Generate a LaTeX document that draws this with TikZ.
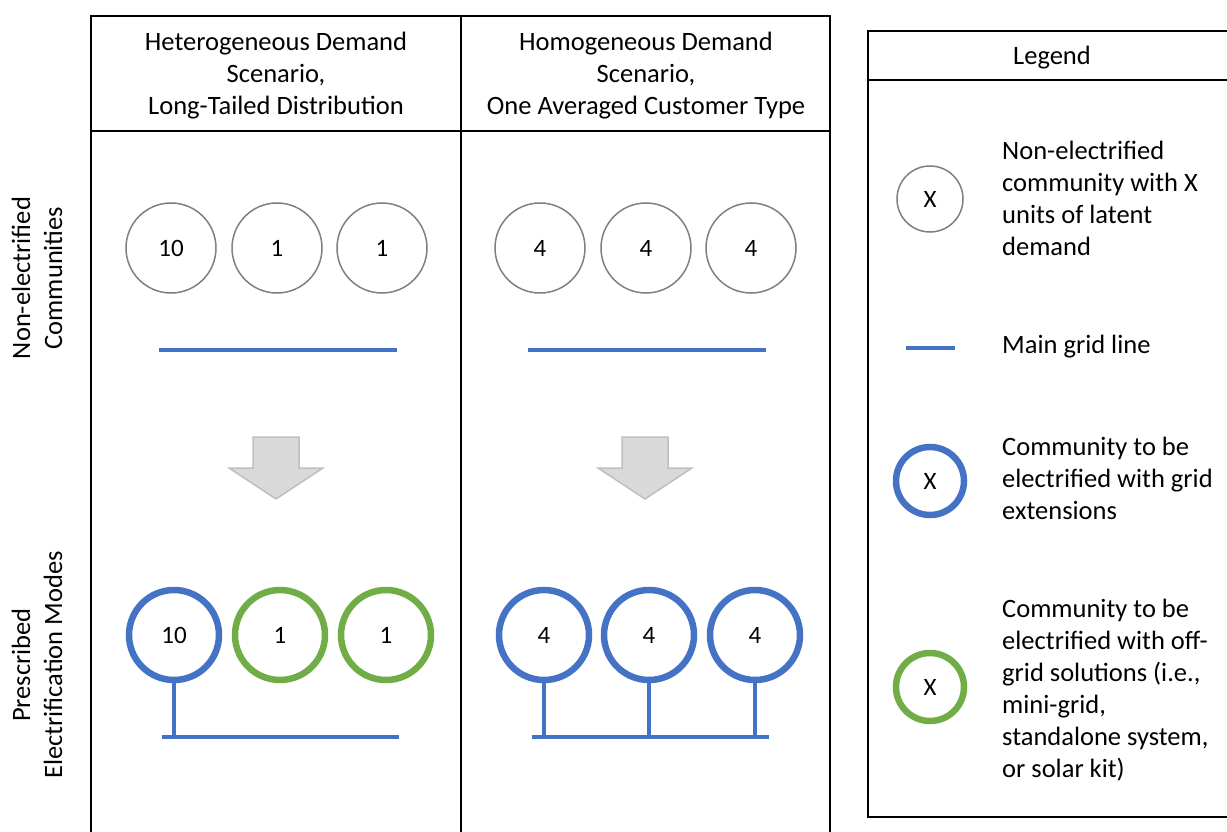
\documentclass[tikz,border=0pt]{standalone}
\usepackage{fontspec}
\setmainfont{Carlito}
\definecolor{gridblue}{HTML}{4472C4}
\definecolor{offgreen}{HTML}{70AD47}
\definecolor{ringgray}{HTML}{7F7F7F}
\definecolor{arrowfill}{HTML}{D9D9D9}
\definecolor{arrowedge}{HTML}{BFBFBF}
\begin{document}
\begin{tikzpicture}[x=1pt,y=-1pt,
  txt/.style={font=\fontsize{26.5}{32}\selectfont, inner sep=0pt},
  plainring/.style={circle, draw=ringgray, line width=1.5pt, minimum size=90pt, inner sep=0pt, font=\fontsize{25}{30}\selectfont},
  gridring/.style={circle, draw=gridblue, line width=6.5pt, minimum size=90pt, inner sep=0pt, font=\fontsize{25}{30}\selectfont},
  offring/.style={circle, draw=offgreen, line width=6.5pt, minimum size=90pt, inner sep=0pt, font=\fontsize{25}{30}\selectfont},
  tableline/.style={line width=1.8pt, black},
  gridline/.style={gridblue, line width=3.5pt},
  downarrow/.style={fill=arrowfill, draw=arrowedge, line width=1.5pt, line join=miter}
]
\useasboundingbox (0,0) rectangle (1227,832);

% main table
\draw[tableline] (91,845) -- (91,16) -- (830,16) -- (830,845);
\draw[tableline] (91,131) -- (830,131);
\draw[tableline] (461,16) -- (461,845);

% headers
\node[txt, align=center] (h1) at (276,76) {Heterogeneous Demand\\Scenario,\\Long-Tailed Distribution};
\node[txt, align=center] (h2) at (646,76) {Homogeneous Demand\\Scenario,\\One Averaged Customer Type};

% row labels
\node[txt, rotate=90, align=center] (r1) at (37,278) {Non-electrified\\Communities};
\node[txt, rotate=90, align=center] (r2) at (37,665) {Prescribed\\Electrification Modes};

% top circles
\node[plainring] (a1) at (171,248) {10};
\node[plainring] (a2) at (277,248) {1};
\node[plainring] (a3) at (382,248) {1};
\node[plainring] (b1) at (540,248) {4};
\node[plainring] (b2) at (646,248) {4};
\node[plainring] (b3) at (751,248) {4};

% main grid lines (top)
\coordinate (la) at (159,350);
\coordinate (lb) at (397,350);
\coordinate (ma) at (528,350);
\coordinate (mb) at (766,350);
\draw[gridline] (la) -- (lb);
\draw[gridline] (ma) -- (mb);

% arrows
\draw[downarrow] (253,437) -- (299,437) -- (299,468) -- (323,468) -- (276,499) -- (229,468) -- (253,468) -- cycle;
\draw[downarrow] (622,437) -- (668,437) -- (668,468) -- (692,468) -- (645,499) -- (598,468) -- (622,468) -- cycle;

% bottom circles
\node[gridring] (c1) at (174,635) {10};
\node[offring] (c2) at (280,635) {1};
\node[offring] (c3) at (386,635) {1};
\node[gridring] (d1) at (544,635) {4};
\node[gridring] (d2) at (649,635) {4};
\node[gridring] (d3) at (755,635) {4};

% bottom grid lines
\coordinate (ga) at (162,737);
\coordinate (gb) at (399,737);
\coordinate (gc) at (532,737);
\coordinate (gd) at (769,737);
\draw[gridline] (ga) -- (gb);
\draw[gridline] (gc) -- (gd);
\draw[gridline] (c1.south) -- (c1.south |- ga);
\draw[gridline] (d1.south) -- (d1.south |- gc);
\draw[gridline] (d2.south) -- (d2.south |- gc);
\draw[gridline] (d3.south) -- (d3.south |- gc);

% legend
\draw[tableline] (1240,31) -- (868,31) -- (868,817) -- (1240,817);
\draw[tableline] (868,80) -- (1240,80);
\node[txt] (lg) at (1052,58) {Legend};

\node[plainring, minimum size=66pt] (x1) at (930,199) {X};
\node[txt, align=left, anchor=west] (t1) at (1002,198) {Non-electrified\\community with X\\units of latent\\demand};

\coordinate (ka) at (906,348);
\coordinate (kb) at (955,348);
\draw[gridline] (ka) -- (kb);
\node[txt, anchor=west] (t2) at (1002,347) {Main grid line};

\node[gridring, minimum size=68pt] (x3) at (930,481) {X};
\node[txt, align=left, anchor=west] (t3) at (1002,478) {Community to be\\electrified with grid\\extensions};

\node[offring, minimum size=68pt] (x4) at (930,687) {X};
\node[txt, align=left, anchor=west] (t4) at (1002,690) {Community to be\\electrified with off-\\grid solutions (i.e.,\\mini-grid,\\standalone system,\\or solar kit)};
\end{tikzpicture}
\end{document}
